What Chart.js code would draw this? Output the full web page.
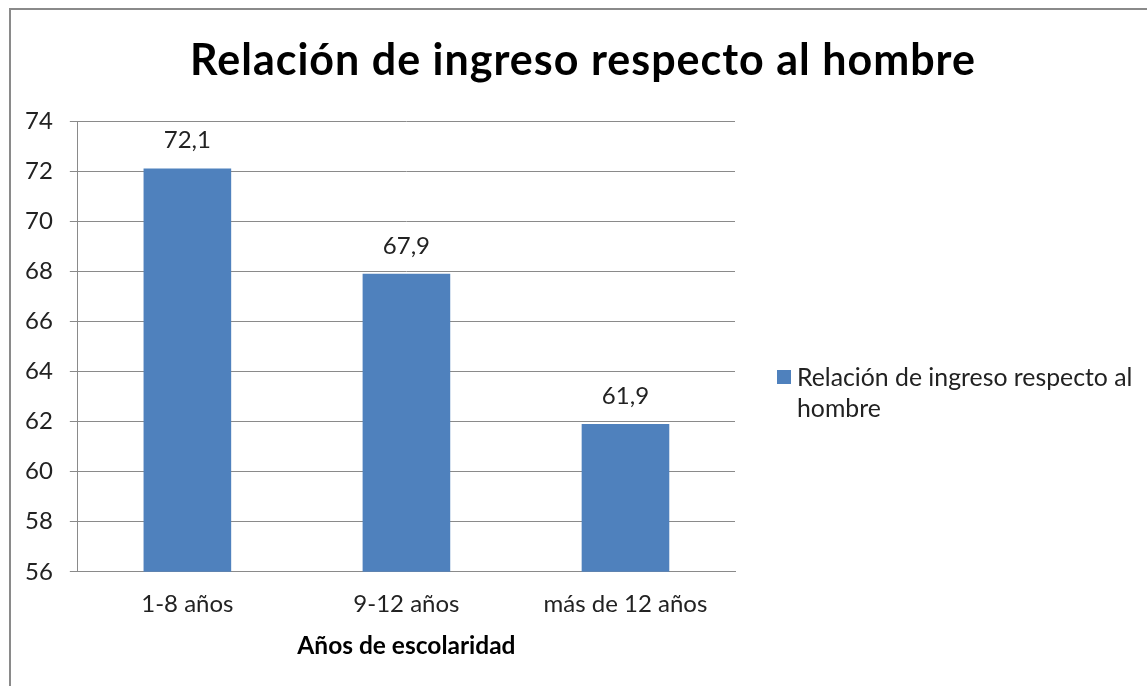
<!DOCTYPE html>
<html lang="es">
<head>
    <meta charset="utf-8">
    <title>Relación de ingreso respecto al hombre</title>
    <script src="https://cdn.jsdelivr.net/npm/chart.js"></script>
    <style>
        html, body { margin: 0; padding: 0; background: #fff; }
        body { width: 1147px; height: 686px; position: relative; overflow: hidden; font-family: "Lato", sans-serif; }
        #frame { position: absolute; left: 9px; top: 8px; width: 1200px; height: 720px; border-left: 2px solid #8a8a8a; border-top: 2px solid #8a8a8a; }
        #chartBox { position: absolute; left: 0; top: 0; width: 1147px; height: 686px; }
        #title { position: absolute; left: 0; width: 1166px; top: 33px; text-align: center; font-weight: bold; font-size: 43px; letter-spacing: 1px; color: #000; }
        #legend { position: absolute; left: 777px; top: 361px; width: 370px; font-size: 24.8px; color: #222; line-height: 31px; }
        #legend .box { position: absolute; left: 0; top: 9px; width: 14px; height: 14px; background: #4f81bd; }
        #legend .txt { position: absolute; left: 20px; top: 0; white-space: nowrap; }
    </style>
</head>
<body>
    <div id="frame"></div>
    <div id="chartBox"><canvas id="myChart" width="1147" height="686"></canvas></div>
    <div id="title">Relación de ingreso respecto al hombre</div>
    <div id="legend"><span class="box"></span><span class="txt">Relación de ingreso respecto al<br>hombre</span></div>
    <script>
        var categorias = ["1-8 años", "9-12 años", "más de 12 años"];
        var valores = [72.1, 67.9, 61.9];
        var serie = "Relación de ingreso respecto al hombre";
        var ejeX = "Años de escolaridad";

        // etiquetas de valor encima de cada barra, con coma decimal
        var etiquetas = {
            id: 'etiquetas',
            afterDatasetsDraw: function(chart) {
                var ctx = chart.ctx;
                var meta = chart.getDatasetMeta(0);
                ctx.save();
                ctx.font = '24px Lato';
                ctx.fillStyle = '#222';
                ctx.textAlign = 'center';
                ctx.textBaseline = 'middle';
                meta.data.forEach(function(bar, i) {
                    var txt = valores[i].toFixed(1).replace('.', ',');
                    ctx.fillText(txt, bar.x, bar.y - 28);
                });
                ctx.restore();
            }
        };

        var ctx = document.getElementById("myChart").getContext('2d');
        var myChart = new Chart(ctx, {
            type: 'bar',
            data: {
                labels: categorias,
                datasets: [{
                    label: serie,
                    data: valores,
                    backgroundColor: '#4f81bd',
                    borderWidth: 0,
                    barPercentage: 0.4,
                    categoryPercentage: 1
                }]
            },
            options: {
                responsive: false,
                animation: false,
                layout: { padding: { left: 8, top: 121, right: 412, bottom: 21 } },
                plugins: {
                    legend: { display: false },
                    tooltip: { enabled: false }
                },
                scales: {
                    x: {
                        grid: { display: false, drawTicks: false },
                        border: { color: '#8a8a8a', width: 1 },
                        ticks: { color: '#222', font: { family: 'Lato', size: 24 }, padding: 18 },
                        title: { display: true, text: ejeX, color: '#000', font: { family: 'Lato', size: 24.5, weight: 'bold' }, padding: { top: -5, bottom: 4 } }
                    },
                    y: {
                        min: 56,
                        max: 74,
                        ticks: { stepSize: 2, color: '#222', font: { family: 'Lato', size: 24 }, padding: 17 },
                        grid: { color: '#8a8a8a', tickLength: 8 },
                        border: { color: '#8a8a8a', width: 1 }
                    }
                }
            },
            plugins: [etiquetas]
        });
    </script>
</body>
</html>
